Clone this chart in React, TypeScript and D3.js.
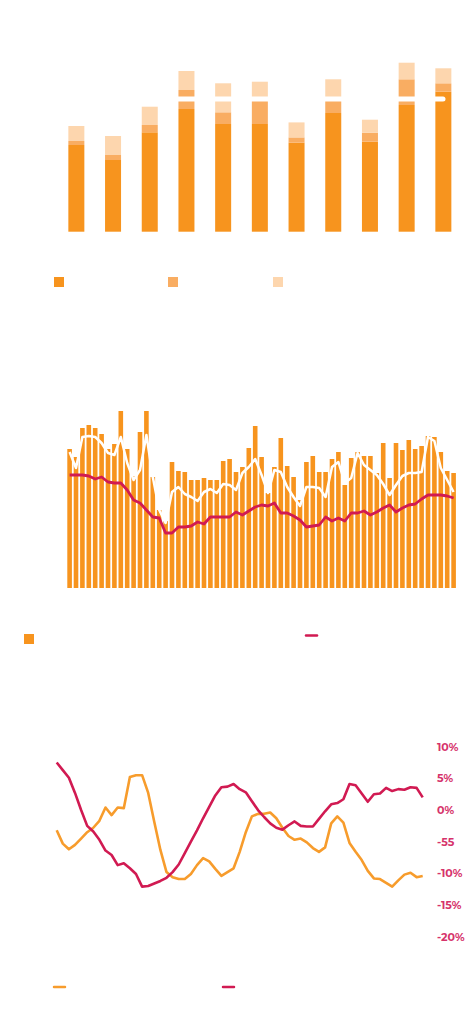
import * as d3 from "d3";

// top panel: stacked bars, three parts
const periods = ["2008", "2009", "2010", "2011", "2012", "2013", "2014", "2015", "2016", "2017", "2018"];
const baseValues = [86.7, 71.7, 99.4, 122.7, 107.7, 107.7, 89, 118.7, 90, 126.7, 140];
const midValues = [4, 5, 7.3, 19, 11.7, 24, 5.3, 13, 9, 25.7, 8.4];
const topValues = [15, 19, 18.3, 19, 29, 18.3, 15, 20.7, 13, 16.6, 15];
const markerValue = 132.7;

// middle panel: monthly bars with two lines
const barValues = [
  139, 131, 160, 163, 160, 154, 139, 144, 177, 139, 112, 156, 177, 111, 78, 67,
  126, 117, 116, 108, 108, 110, 108, 108, 127, 129, 116, 121, 140, 162, 131, 95,
  121, 150, 122, 111, 88, 126, 132, 116, 116, 129, 136, 103, 130, 136, 132, 132,
  115, 145, 110, 145, 138, 148, 139, 142, 152, 151, 136, 117, 115,
];
const whiteValues = [
  136, 120, 151, 152, 151, 145, 135, 133, 151, 125, 108, 118, 153, 111, 78, 65,
  96, 101, 94, 91, 87, 96, 99, 95, 104, 103, 98, 115, 121, 129, 113, 95,
  118, 116, 101, 91, 82, 101, 101, 100, 91, 121, 126, 105, 110, 135, 123, 118,
  113, 104, 93, 103, 112, 115, 115, 116, 151, 147, 120, 108, 96,
];
const redValues = [
  113, 113, 113, 112, 109, 111, 106, 105, 105, 98, 88, 85, 78, 71, 70, 55,
  55, 61, 61, 62, 66, 64, 71, 71, 71, 71, 76, 73, 77, 81, 83, 82,
  85, 75, 75, 72, 68, 61, 62, 63, 71, 67, 70, 67, 75, 75, 77, 73,
  76, 80, 83, 76, 80, 83, 84, 89, 93, 93, 93, 92, 90,
];

// bottom panel: two percentage series
const orangePct = [
  -3.2, -5.3, -6.2, -5.5, -4.5, -3.5, -2.8, -1.7, 0.4, -0.8, 0.4, 0.3, 5.2, 5.5, 5.5, 2.7,
  -1.9, -6.3, -9.8, -10.6, -10.9, -10.9, -10.1, -8.7, -7.6, -8.1, -9.3, -10.4, -9.8, -9.2, -6.6, -3.5,
  -1.0, -0.6, -0.6, -0.4, -1.3, -2.8, -4.1, -4.7, -4.5, -5.1, -6.0, -6.6, -5.9, -2.1, -1.0, -2.0,
  -5.2, -6.6, -7.9, -9.6, -10.8, -10.9, -11.5, -12.1, -11.1, -10.2, -9.9, -10.6, -10.4,
];
const redPct = [
  7.5, 6.3, 5.1, 2.7, 0, -2.5, -3.4, -4.7, -6.4, -7.1, -8.7, -8.4, -9.2, -10.1, -12.1, -12.0,
  -11.6, -11.2, -10.7, -9.8, -8.6, -6.8, -5.0, -3.2, -1.3, 0.5, 2.3, 3.6, 3.7, 4.1, 3.3, 2.8,
  1.4, 0, -1.1, -2.1, -2.8, -3.1, -2.4, -1.8, -2.5, -2.6, -2.6, -1.4, -0.2, 0.9, 1.1, 1.7,
  4.1, 3.9, 2.6, 1.3, 2.5, 2.6, 3.5, 3.0, 3.3, 3.2, 3.6, 3.5, 2.0,
];
const pctTicks = [10, 5, 0, -5, -10, -15, -20];
const pctTickLabels = ["10%", "5%", "0%", "-55", "-10%", "-15%", "-20%"];

const ORANGE = "#f7941e";
const ORANGE_MID = "#f9ad62";
const ORANGE_LIGHT = "#fdd6ae";
const LINE_ORANGE = "#f79c2c";
const RED = "#d11a52";
const LABEL_RED = "#d6336b";

const W = 474;
const H = 1024;

const App = () => {
  // ---------- top panel ----------
  const xTop = d3.scaleBand<string>()
    .domain(periods)
    .range([58, 461.7])
    .paddingInner(0.564)
    .paddingOuter(0.282);
  const yTop = d3.scaleLinear().domain([0, 180]).range([231.7, 51.7]);

  const stackRows = periods.map((p, i) => ({
    period: p,
    base: baseValues[i],
    mid: midValues[i],
    top: topValues[i],
  }));
  const stacked = d3.stack<any>().keys(["base", "mid", "top"])(stackRows);
  const stackColors = [ORANGE, ORANGE_MID, ORANGE_LIGHT];

  // ---------- middle panel ----------
  const idx = barValues.map((_, i) => String(i));
  const xMid = d3.scaleBand<string>()
    .domain(idx)
    .range([66.4, 456.8])
    .paddingInner(0.28)
    .paddingOuter(0.14);
  const yMid = d3.scaleLinear().domain([0, 180]).range([588, 408]);
  const midLine = d3.line<number>()
    .x((_, i) => (xMid(String(i)) || 0) + xMid.bandwidth() / 2)
    .y(d => yMid(d));

  // ---------- bottom panel ----------
  const xBot = d3.scaleLinear().domain([0, orangePct.length - 1]).range([56.7, 422.7]);
  const yBot = d3.scaleLinear().domain([-20, 10]).range([936.7, 746.7]);
  const botLine = d3.line<number>()
    .x((_, i) => xBot(i))
    .y(d => yBot(d));

  return (
    <div style={{ position: "absolute", left: 0, top: 0, width: W, height: H, background: "#fff" }}>
      <svg width={W} height={H} viewBox={`0 0 ${W} ${H}`} style={{ display: "block" }}>
        {/* top stacked bars */}
        <g>
          {stacked.map((layer, li) => (
            <g key={li} fill={stackColors[li]}>
              {layer.map((d, i) => (
                <rect
                  key={i}
                  x={xTop(periods[i])}
                  y={yTop(d[1])}
                  width={xTop.bandwidth()}
                  height={yTop(d[0]) - yTop(d[1])}
                />
              ))}
            </g>
          ))}
          <line
            x1={58}
            x2={443}
            y1={yTop(markerValue)}
            y2={yTop(markerValue)}
            stroke="#fff"
            strokeWidth={5}
            strokeLinecap="round"
          />
        </g>
        {/* top legend */}
        <g>
          <rect x={54} y={277} width={10} height={10} fill={ORANGE} />
          <rect x={168} y={277} width={10} height={10} fill={ORANGE_MID} />
          <rect x={273} y={277} width={10} height={10} fill={ORANGE_LIGHT} />
        </g>

        {/* middle bars and lines */}
        <g fill={ORANGE}>
          {barValues.map((v, i) => (
            <rect
              key={i}
              x={xMid(String(i))}
              y={yMid(v)}
              width={xMid.bandwidth()}
              height={yMid(0) - yMid(v)}
            />
          ))}
        </g>
        <path d={midLine(whiteValues) || ""} fill="none" stroke="#fff" strokeWidth={2.5} strokeLinejoin="round" />
        <path d={midLine(redValues) || ""} fill="none" stroke={RED} strokeWidth={2.8} strokeLinejoin="round" />
        {/* middle legend */}
        <g>
          <rect x={24} y={634} width={10} height={10} fill={ORANGE} />
          <line x1={306} x2={317} y1={635.5} y2={635.5} stroke={RED} strokeWidth={2.5} strokeLinecap="round" />
        </g>

        {/* bottom lines */}
        <path d={botLine(orangePct) || ""} fill="none" stroke={LINE_ORANGE} strokeWidth={2.6} strokeLinejoin="round" />
        <path d={botLine(redPct) || ""} fill="none" stroke={RED} strokeWidth={2.6} strokeLinejoin="round" />
        <g
          fontFamily="Montserrat, 'Open Sans', 'DejaVu Sans', sans-serif"
          fontWeight="bold"
          fontSize={11}
          fill={LABEL_RED}
        >
          {pctTicks.map((t, i) => (
            <text key={t} x={437} y={yBot(t)} dy="0.35em">
              {pctTickLabels[i]}
            </text>
          ))}
        </g>
        {/* bottom legend */}
        <g>
          <line x1={54} x2={65} y1={987} y2={987} stroke={LINE_ORANGE} strokeWidth={2.5} strokeLinecap="round" />
          <line x1={223} x2={234} y1={987} y2={987} stroke={RED} strokeWidth={2.5} strokeLinecap="round" />
        </g>
      </svg>
    </div>
  );
};

export default App;
